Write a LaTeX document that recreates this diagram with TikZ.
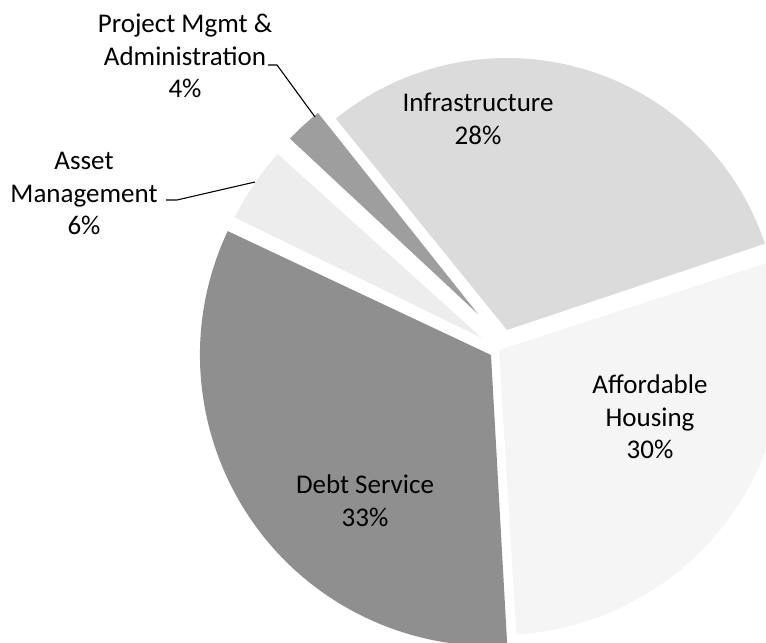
\documentclass[tikz,border=0pt]{standalone}
\usepackage{fontspec}
\setmainfont{Carlito}
\newcommand\pielbl[1]{\vtop{\halign{\hfil##\hfil\cr#1\cr}}}
\begin{document}
\begin{tikzpicture}[x=1bp,y=1bp,
  lbl/.style={inner sep=0pt, anchor=base, font=\fontsize{27bp}{32.5bp}\selectfont},
  leader/.style={line width=1.1bp, black},
  slice/.style={draw=none}]
\useasboundingbox (0,0) rectangle (766,643);
\begin{scope}
\clip (0,0) rectangle (766,643);
% Affordable Housing
\fill[slice, black!4] (499,293) -- ++(-86.5:285) arc[start angle=-86.5, end angle=18, radius=285] -- cycle;
% Infrastructure
\fill[slice, black!14] (507,313) -- ++(18.5:272) arc[start angle=18.5, end angle=129, radius=272] -- cycle;
% Project Mgmt & Administration
\fill[slice, black!38] (478,329) -- ++(128.5:257) arc[start angle=128.5, end angle=137, radius=257] -- cycle;
% Asset Management
\fill[slice, black!7] (482,305) -- ++(138:275) arc[start angle=138, end angle=154, radius=275] -- cycle;
% Debt Service
\fill[slice, black!44] (491,288) -- ++(154.8:291) arc[start angle=154.8, end angle=273.2, radius=291] -- cycle;
\end{scope}
% labels
\node[lbl] (pm) at (185,610) {\pielbl{Project Mgmt \&\cr Administration\cr 4\%}};
\node[lbl] (am) at (84,473) {\pielbl{Asset\cr Management\cr 6\%}};
\node[lbl] (inf) at (478,531) {\pielbl{Infrastructure\cr 28\%}};
\node[lbl] (ah) at (650,249) {\pielbl{Affordable\cr Housing\cr 30\%}};
\node[lbl] (ds) at (365,149) {\pielbl{Debt Service\cr 33\%}};
% leader lines
\coordinate (pmA) at (268,578);
\coordinate (pmB) at (277,578);
\coordinate (pmC) at (315,526);
\coordinate (amA) at (166,443);
\coordinate (amB) at (177,443);
\coordinate (amC) at (255,461);
\draw[leader] (pmA) -- (pmB) -- (pmC);
\draw[leader] (amA) -- (amB) -- (amC);
\end{tikzpicture}
\end{document}
